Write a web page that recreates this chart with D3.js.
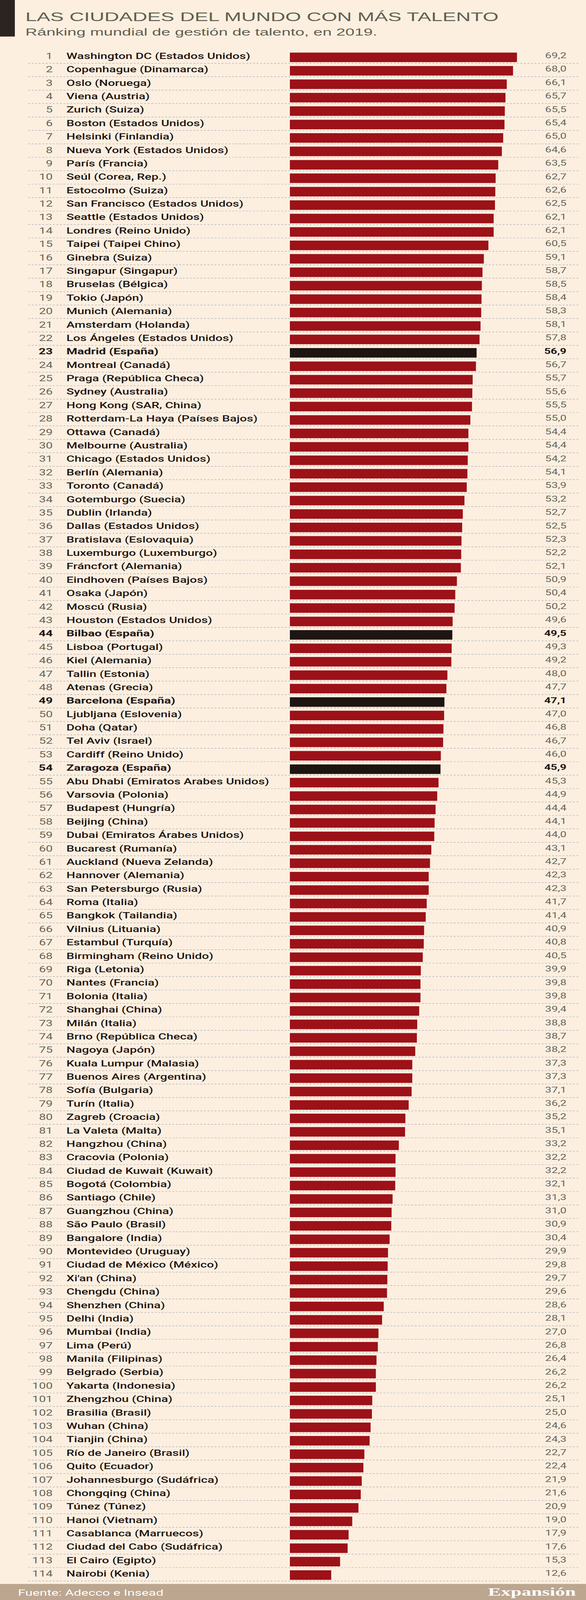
<!DOCTYPE html>
<html>
<head>
<meta charset="utf-8">
<script src="https://cdn.jsdelivr.net/npm/d3@7"></script>
<style>
  html, body { margin: 0; padding: 0; background: #fcefe0; overflow: hidden; }
  svg { display: block; }
</style>
</head>
<body>
<svg id="chart"></svg>
<script>
// chart texts
const title = 'LAS CIUDADES DEL MUNDO CON MÁS TALENTO'
const subtitle = 'Ránking mundial de gestión de talento, en 2019.'
const source = 'Fuente: Adecco e Insead'
const brand = 'Expansión'

// cities in ranking order
const cities = [
  'Washington DC (Estados Unidos)', 'Copenhague (Dinamarca)', 'Oslo (Noruega)', 'Viena (Austria)',
  'Zurich (Suiza)', 'Boston (Estados Unidos)', 'Helsinki (Finlandia)', 'Nueva York (Estados Unidos)',
  'París (Francia)', 'Seúl (Corea, Rep.)', 'Estocolmo (Suiza)', 'San Francisco (Estados Unidos)',
  'Seattle (Estados Unidos)', 'Londres (Reino Unido)', 'Taipei (Taipei Chino)', 'Ginebra (Suiza)',
  'Singapur (Singapur)', 'Bruselas (Bélgica)', 'Tokio (Japón)', 'Munich (Alemania)',
  'Amsterdam (Holanda)', 'Los Ángeles (Estados Unidos)', 'Madrid (España)', 'Montreal (Canadá)',
  'Praga (República Checa)', 'Sydney (Australia)', 'Hong Kong (SAR, China)', 'Rotterdam-La Haya (Países Bajos)',
  'Ottawa (Canadá)', 'Melbourne (Australia)', 'Chicago (Estados Unidos)', 'Berlín (Alemania)',
  'Toronto (Canadá)', 'Gotemburgo (Suecia)', 'Dublin (Irlanda)', 'Dallas (Estados Unidos)',
  'Bratislava (Eslovaquia)', 'Luxemburgo (Luxemburgo)', 'Fráncfort  (Alemania)', 'Eindhoven (Países Bajos)',
  'Osaka (Japón)', 'Moscú (Rusia)', 'Houston (Estados Unidos)', 'Bilbao (España)',
  'Lisboa (Portugal)', 'Kiel (Alemania)', 'Tallin (Estonia)', 'Atenas (Grecia)',
  'Barcelona (España)', 'Ljubljana (Eslovenia)', 'Doha (Qatar)', 'Tel Aviv (Israel)',
  'Cardiff (Reino Unido)', 'Zaragoza (España)', 'Abu Dhabi (Emiratos Arabes Unidos)', 'Varsovia (Polonia)',
  'Budapest (Hungría)', 'Beijing (China)', 'Dubai (Emiratos Árabes Unidos)', 'Bucarest (Rumanía)',
  'Auckland (Nueva Zelanda)', 'Hannover (Alemania)', 'San Petersburgo (Rusia)', 'Roma (Italia)',
  'Bangkok (Tailandia)', 'Vilnius (Lituania)', 'Estambul (Turquía)', 'Birmingham (Reino Unido)',
  'Riga (Letonia)', 'Nantes (Francia)', 'Bolonia (Italia)', 'Shanghai (China)',
  'Milán (Italia)', 'Brno (República Checa)', 'Nagoya (Japón)', 'Kuala Lumpur (Malasia)',
  'Buenos Aires (Argentina)', 'Sofía (Bulgaria)', 'Turín (Italia)', 'Zagreb (Croacia)',
  'La Valeta (Malta)', 'Hangzhou (China)', 'Cracovia (Polonia)', 'Ciudad de Kuwait (Kuwait)',
  'Bogotá (Colombia)', 'Santiago (Chile)', 'Guangzhou (China)', 'São Paulo (Brasil)',
  'Bangalore (India)', 'Montevideo (Uruguay)', 'Ciudad de México (México)', "Xi'an (China)",
  'Chengdu (China)', 'Shenzhen (China)', 'Delhi (India)', 'Mumbai (India)',
  'Lima (Perú)', 'Manila (Filipinas)', 'Belgrado (Serbia)', 'Yakarta (Indonesia)',
  'Zhengzhou (China)', 'Brasilia (Brasil)', 'Wuhan (China)', 'Tianjin (China)',
  'Río de Janeiro (Brasil)', 'Quito (Ecuador)', 'Johannesburgo (Sudáfrica)', 'Chongqing (China)',
  'Túnez (Túnez)', 'Hanoi (Vietnam)', 'Casablanca (Marruecos)', 'Ciudad del Cabo (Sudáfrica)',
  'El Cairo (Egipto)', 'Nairobi (Kenia)'
]

// talent score, same order
const scores = [
  69.2, 68.0, 66.1, 65.7, 65.5, 65.4, 65.0, 64.6, 63.5, 62.7, 62.6, 62.5,
  62.1, 62.1, 60.5, 59.1, 58.7, 58.5, 58.4, 58.3, 58.1, 57.8, 56.9, 56.7,
  55.7, 55.6, 55.5, 55.0, 54.4, 54.4, 54.2, 54.1, 53.9, 53.2, 52.7, 52.5,
  52.3, 52.2, 52.1, 50.9, 50.4, 50.2, 49.6, 49.5, 49.3, 49.2, 48.0, 47.7,
  47.1, 47.0, 46.8, 46.7, 46.0, 45.9, 45.3, 44.9, 44.4, 44.1, 44.0, 43.1,
  42.7, 42.3, 42.3, 41.7, 41.4, 40.9, 40.8, 40.5, 39.9, 39.8, 39.8, 39.4,
  38.8, 38.7, 38.2, 37.3, 37.3, 37.1, 36.2, 35.2, 35.1, 33.2, 32.2, 32.2,
  32.1, 31.3, 31.0, 30.9, 30.4, 29.9, 29.8, 29.7, 29.6, 28.6, 28.1, 27.0,
  26.8, 26.4, 26.2, 26.2, 25.1, 25.0, 24.6, 24.3, 22.7, 22.4, 21.9, 21.6,
  20.9, 19.0, 17.9, 17.6, 15.3, 12.6
]

// spanish cities get the dark bar
const highlight = ['Madrid (España)', 'Bilbao (España)', 'Barcelona (España)', 'Zaragoza (España)']

// drawing is done in a 1500x6876 space; the viewBox fits it to the window we get
const W = 1500
const H = 6876
const sans = "'Liberation Sans', Arial, sans-serif"
const cond = "Roboto, 'Liberation Sans', sans-serif"

const data = cities.map((c, i) => ({ rank: i + 1, city: c, value: scores[i], hi: highlight.includes(c) }))

const svg = d3.select('#chart')
  .attr('width', window.innerWidth || W)
  .attr('height', window.innerHeight || H)
  .attr('viewBox', '0 0 ' + W + ' ' + H)
  .attr('preserveAspectRatio', 'none')
  .style('background', '#fcefe0')

// header
svg.append('rect')
  .attr('x', 0).attr('y', 0)
  .attr('width', 38).attr('height', 157)
  .attr('fill', '#2b2420')

svg.append('text')
  .attr('x', 65).attr('y', 90)
  .attr('font-family', sans)
  .attr('font-size', 52)
  .attr('fill', '#5f5e4f')
  .text(title)

svg.append('text')
  .attr('x', 65).attr('y', 153)
  .attr('font-family', sans)
  .attr('font-size', 42)
  .attr('fill', '#5f5e4f')
  .text(subtitle)

// scales
let y = d3.scaleBand()
  .domain(data.map(d => d.rank))
  .range([214.3, 214.3 + 114 * 57.72])

let x = d3.scaleLinear()
  .domain([0, 70])
  .range([742, 1330])

let fmt = v => d3.format('.1f')(v).replace('.', ',')

let row = svg.append('g').selectAll('g')
  .data(data)
  .join('g')
  .attr('transform', d => 'translate(0,' + y(d.rank) + ')')

// dotted separator under each row
row.append('line')
  .attr('x1', 72).attr('x2', 1483)
  .attr('y1', y.bandwidth()).attr('y2', y.bandwidth())
  .attr('stroke', '#a9abb2')
  .attr('stroke-width', 2)
  .attr('stroke-dasharray', '5,4')

row.append('rect')
  .attr('x', x(0))
  .attr('y', 11.7)
  .attr('width', d => x(d.value) - x(0))
  .attr('height', 41)
  .attr('fill', d => d.hi ? '#1e1512' : '#9d1118')

// rank, city and value texts are narrowed to look like the condensed face
row.append('text')
  .attr('transform', 'translate(135,39) scale(0.85,1)')
  .attr('text-anchor', 'end')
  .attr('font-family', cond)
  .attr('font-size', 37)
  .attr('font-weight', d => d.hi ? 700 : 400)
  .attr('fill', d => d.hi ? '#1e1512' : '#66655a')
  .text(d => d.rank)

row.append('text')
  .attr('transform', 'translate(170,39) scale(0.84,1)')
  .attr('font-family', cond)
  .attr('font-size', 38)
  .attr('font-weight', d => d.hi ? 700 : 500)
  .attr('fill', '#1e1512')
  .text(d => d.city)

row.append('text')
  .attr('transform', 'translate(1450,36) scale(0.88,1)')
  .attr('text-anchor', 'end')
  .attr('font-family', cond)
  .attr('font-size', 33)
  .attr('font-weight', d => d.hi ? 700 : 400)
  .attr('fill', d => d.hi ? '#1e1512' : '#66655a')
  .text(d => fmt(d.value))

// footer
svg.append('rect')
  .attr('x', 0).attr('y', 6807)
  .attr('width', W).attr('height', H - 6807)
  .attr('fill', '#bca690')

svg.append('text')
  .attr('transform', 'translate(46,6857) scale(0.9,1)')
  .attr('font-family', cond)
  .attr('font-size', 38)
  .attr('fill', '#ffffff')
  .text(source)

svg.append('text')
  .attr('x', 1474).attr('y', 6858)
  .attr('text-anchor', 'end')
  .attr('font-family', "'Liberation Serif', 'DejaVu Serif', serif")
  .attr('font-size', 50)
  .attr('font-weight', 'bold')
  .attr('fill', '#ffffff')
  .text(brand)
</script>
</body>
</html>
